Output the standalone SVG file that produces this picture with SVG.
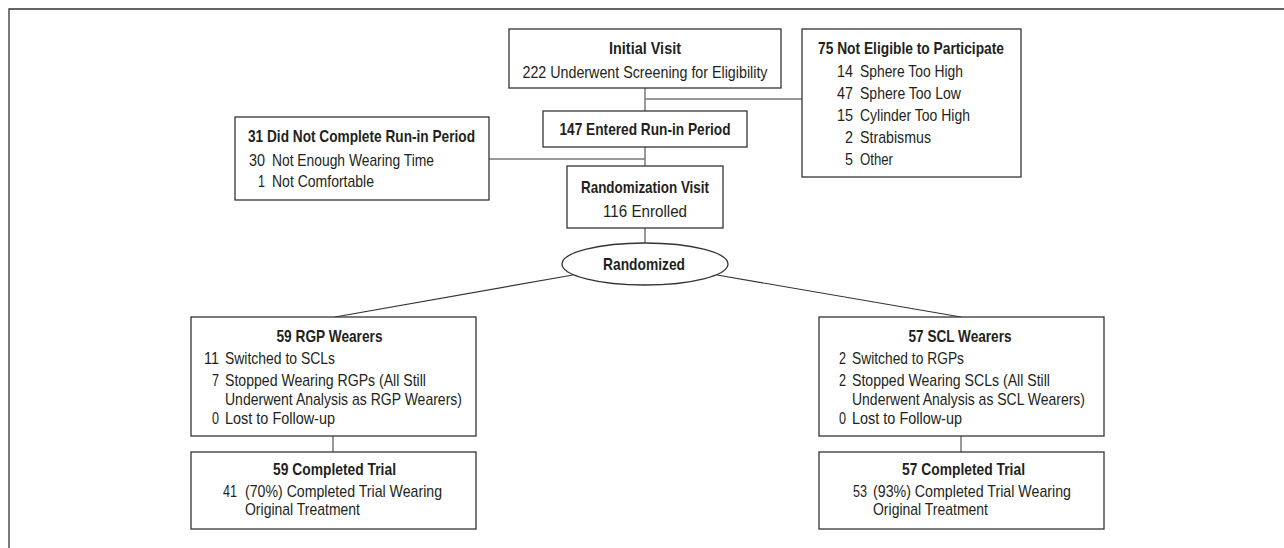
<svg xmlns="http://www.w3.org/2000/svg" width="1284" height="548" viewBox="0 0 1284 548">
<style>
text{font-family:"Liberation Sans Narrow","Liberation Sans",Arial,sans-serif;font-size:17px;fill:#231f20}
.b{font-weight:bold}
.c{text-anchor:middle}
.e{text-anchor:end}
.box{fill:#fff;stroke:#333;stroke-width:1.3}
.con{stroke:#7a7a7a;stroke-width:1.5;fill:none}
.dia{stroke:#333;stroke-width:1.2;fill:none}
.frame{stroke:#333;stroke-width:1.3;fill:none}
</style>
<rect width="1284" height="548" fill="#fff"/>
<path class="frame" d="M9,548 V9 H1284"/>
<g id="connectors">
<path class="con" d="M645,88 V111 M645,99 H802 M645,147 V166 M489,159 H645 M645,228 V243 M333,436 V452 M961,436 V452"/>
<path class="dia" d="M573,275 L335,317 M717,275 L961,317"/>
</g>
<g id="initial">
<rect class="box" x="509" y="29" width="272" height="59"/>
<text class="b c" x="645" y="54" textLength="72" lengthAdjust="spacingAndGlyphs">Initial Visit</text>
<text class="c" x="645" y="78" textLength="245" lengthAdjust="spacingAndGlyphs">222 Underwent Screening for Eligibility</text>
</g>
<g id="noteligible">
<rect class="box" x="802" y="29" width="219" height="148"/>
<text class="b" x="818" y="54" textLength="186" lengthAdjust="spacingAndGlyphs">75 Not Eligible to Participate</text>
<text class="e" x="853" y="77" textLength="16" lengthAdjust="spacingAndGlyphs">14</text>
<text x="860" y="77" textLength="103" lengthAdjust="spacingAndGlyphs">Sphere Too High</text>
<text class="e" x="853" y="99" textLength="16" lengthAdjust="spacingAndGlyphs">47</text>
<text x="860" y="99" textLength="101" lengthAdjust="spacingAndGlyphs">Sphere Too Low</text>
<text class="e" x="853" y="121" textLength="16" lengthAdjust="spacingAndGlyphs">15</text>
<text x="860" y="121" textLength="110" lengthAdjust="spacingAndGlyphs">Cylinder Too High</text>
<text class="e" x="853" y="143" textLength="8" lengthAdjust="spacingAndGlyphs">2</text>
<text x="860" y="143" textLength="71" lengthAdjust="spacingAndGlyphs">Strabismus</text>
<text class="e" x="853" y="165" textLength="8" lengthAdjust="spacingAndGlyphs">5</text>
<text x="860" y="165" textLength="33" lengthAdjust="spacingAndGlyphs">Other</text>
</g>
<g id="runin">
<rect class="box" x="543" y="111" width="204" height="36"/>
<text class="b c" x="645" y="135" textLength="171" lengthAdjust="spacingAndGlyphs">147 Entered Run-in Period</text>
</g>
<g id="notcomplete">
<rect class="box" x="235" y="117" width="254" height="83"/>
<text class="b" x="248" y="142" textLength="227" lengthAdjust="spacingAndGlyphs">31 Did Not Complete Run-in Period</text>
<text class="e" x="265" y="166" textLength="16" lengthAdjust="spacingAndGlyphs">30</text>
<text x="272" y="166" textLength="162" lengthAdjust="spacingAndGlyphs">Not Enough Wearing Time</text>
<text class="e" x="265" y="187" textLength="7" lengthAdjust="spacingAndGlyphs">1</text>
<text x="272" y="187" textLength="102" lengthAdjust="spacingAndGlyphs">Not Comfortable</text>
</g>
<g id="randvisit">
<rect class="box" x="567" y="166" width="156" height="62"/>
<text class="b c" x="645" y="193" textLength="128" lengthAdjust="spacingAndGlyphs">Randomization Visit</text>
<text class="c" x="645" y="217" textLength="84" lengthAdjust="spacingAndGlyphs">116 Enrolled</text>
</g>
<g id="randomized">
<ellipse class="box" cx="645" cy="264" rx="83" ry="21"/>
<text class="b c" x="644" y="270" textLength="82" lengthAdjust="spacingAndGlyphs">Randomized</text>
</g>
<g id="rgp">
<rect class="box" x="191" y="317" width="285" height="119"/>
<text class="b c" x="329.5" y="342" textLength="106" lengthAdjust="spacingAndGlyphs">59 RGP Wearers</text>
<text class="e" x="219" y="364" textLength="15" lengthAdjust="spacingAndGlyphs">11</text>
<text x="225" y="364" textLength="110" lengthAdjust="spacingAndGlyphs">Switched to SCLs</text>
<text class="e" x="219" y="386" textLength="7" lengthAdjust="spacingAndGlyphs">7</text>
<text x="225" y="386" textLength="201" lengthAdjust="spacingAndGlyphs">Stopped Wearing RGPs (All Still</text>
<text x="225" y="405" textLength="237" lengthAdjust="spacingAndGlyphs">Underwent Analysis as RGP Wearers)</text>
<text class="e" x="219" y="424" textLength="7" lengthAdjust="spacingAndGlyphs">0</text>
<text x="225" y="424" textLength="110" lengthAdjust="spacingAndGlyphs">Lost to Follow-up</text>
</g>
<g id="rgpcompleted">
<rect class="box" x="191" y="452" width="285" height="77"/>
<text class="b c" x="334.5" y="475" textLength="123" lengthAdjust="spacingAndGlyphs">59 Completed Trial</text>
<text x="223" y="497" textLength="14" lengthAdjust="spacingAndGlyphs">41</text>
<text x="245" y="497" textLength="197" lengthAdjust="spacingAndGlyphs">(70%) Completed Trial Wearing</text>
<text x="245" y="515" textLength="115" lengthAdjust="spacingAndGlyphs">Original Treatment</text>
</g>
<g id="scl">
<rect class="box" x="819" y="317" width="285" height="119"/>
<text class="b c" x="960" y="342" textLength="103" lengthAdjust="spacingAndGlyphs">57 SCL Wearers</text>
<text class="e" x="846" y="364" textLength="7" lengthAdjust="spacingAndGlyphs">2</text>
<text x="852" y="364" textLength="112" lengthAdjust="spacingAndGlyphs">Switched to RGPs</text>
<text class="e" x="846" y="386" textLength="7" lengthAdjust="spacingAndGlyphs">2</text>
<text x="852" y="386" textLength="198" lengthAdjust="spacingAndGlyphs">Stopped Wearing SCLs (All Still</text>
<text x="852" y="405" textLength="233" lengthAdjust="spacingAndGlyphs">Underwent Analysis as SCL Wearers)</text>
<text class="e" x="846" y="424" textLength="7" lengthAdjust="spacingAndGlyphs">0</text>
<text x="852" y="424" textLength="110" lengthAdjust="spacingAndGlyphs">Lost to Follow-up</text>
</g>
<g id="sclcompleted">
<rect class="box" x="819" y="452" width="285" height="77"/>
<text class="b c" x="963.5" y="475" textLength="123" lengthAdjust="spacingAndGlyphs">57 Completed Trial</text>
<text x="853" y="497" textLength="14" lengthAdjust="spacingAndGlyphs">53</text>
<text x="873" y="497" textLength="198" lengthAdjust="spacingAndGlyphs">(93%) Completed Trial Wearing</text>
<text x="873" y="515" textLength="115" lengthAdjust="spacingAndGlyphs">Original Treatment</text>
</g>
</svg>
